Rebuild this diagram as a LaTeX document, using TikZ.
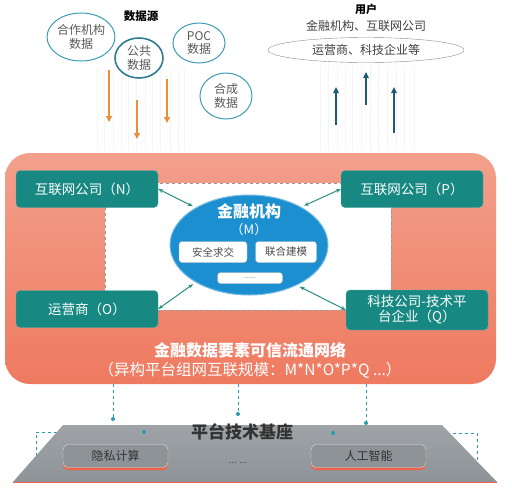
\documentclass[tikz,border=0pt]{standalone}
\usepackage{fontspec}
\setmainfont{Noto Sans CJK SC}
\usepackage{xcolor}
\usetikzlibrary{arrows.meta,shapes.geometric}

\definecolor{netorange}{HTML}{EE7A60}
\definecolor{netlight}{HTML}{F3A08C}
\definecolor{orgteal}{HTML}{178882}
\definecolor{mblue}{HTML}{1C8FD0}
\definecolor{srcring}{HTML}{3C9CB6}
\definecolor{downorange}{HTML}{E98F3C}
\definecolor{upblue}{HTML}{1F5B77}
\definecolor{linkteal}{HTML}{2A8F82}
\definecolor{basegray}{HTML}{8E9397}
\definecolor{dotteal}{HTML}{2A9AB0}

\begin{document}
\begin{tikzpicture}[x=1pt,y=-1pt,
  src/.style={ellipse,draw=srcring,line width=1pt,inner sep=0pt,align=center,
    text=black!65,font=\fontsize{12}{13.5}\selectfont},
  orgbox/.style={rectangle,rounded corners=4pt,fill=orgteal,draw=orgteal!70!white,
    text=white,align=center,minimum width=142pt,minimum height=37pt,
    font=\fontsize{13.5}{15}\selectfont},
  toolbox/.style={rectangle,rounded corners=3pt,fill=white,draw=black!30,
    text=black!70,minimum height=21pt,inner sep=0pt,font=\fontsize{10.5}{12}\selectfont},
  basebox/.style={rectangle,rounded corners=5pt,fill=basegray,draw=white!70!basegray,
    text=black!80,minimum width=105pt,minimum height=23pt,font=\fontsize{12}{13}\selectfont},
  duo/.style={{Stealth[length=5pt]}-{Stealth[length=5pt]},linkteal,line width=1pt},
  downarr/.style={-{Triangle[length=6pt,width=6pt]},downorange,line width=1.8pt},
  uparr/.style={-{Triangle[length=6pt,width=5.5pt]},upblue,line width=1.6pt},
  tap/.style={dashed,dotteal,line width=0.6pt},
  tapdot/.style={circle,fill=dotteal,inner sep=0pt,minimum size=4pt}]

\useasboundingbox (0,0) rectangle (512,491);

% faint stripes behind the arrows
\foreach \x in {97,104,113,121,128,136,145,152,160,170,178,184}
  \draw[black!4,line width=1pt] (\x,68) -- (\x,150);
\foreach \x in {320,328,337,345,352,361,370,378,387,396,404,414}
  \draw[black!4,line width=1pt] (\x,66) -- (\x,150);

% data sources
\node[font=\bfseries\fontsize{11.5}{12}\selectfont] (srctitle) at (141,16) {数据源};
\node[src,minimum width=53pt,minimum height=48pt] (hezuo) at (81,37) {合作机构\\数据};
\node[src,line width=1.6pt,draw=srcring!80!black,minimum width=48pt,minimum height=40pt] (gonggong) at (139,58) {公共\\数据};
\node[src,minimum width=52pt,minimum height=40pt] (poc) at (199,43) {POC\\数据};
\node[src,minimum width=52pt,minimum height=46pt] (hecheng) at (226,96) {合成\\数据};
\foreach \x/\ya/\yb in {109/70/122, 137/100/139, 167/79/123}
  \draw[downarr] (\x,\ya) -- (\x,\yb);

% users
\node[font=\bfseries\fontsize{11}{12}\selectfont] (usertitle) at (366,9) {用户};
\node[font=\fontsize{12}{13}\selectfont,text=black!75] (userline) at (366,26) {金融机构、互联网公司};
\node[ellipse,draw=black!45,fill=white,minimum width=196pt,minimum height=25pt,inner sep=0pt,
  font=\fontsize{12}{13}\selectfont,text=black!75] (userring) at (366,50) {运营商、科技企业等};
\foreach \x/\ya/\yb in {336/125/87, 366/105/72, 394/133/87}
  \draw[uparr] (\x,\ya) -- (\x,\yb);

% network
\node[rectangle,rounded corners=25pt,top color=netlight,bottom color=netorange,
  minimum width=491pt,minimum height=231pt] (net) at (250.5,268.5) {};
\draw[dashed,black!40,fill=white] (105,183) rectangle (391,310);

\node[orgbox] (N) at (87,189) {互联网公司（N）};
\node[orgbox] (O) at (87,309) {运营商（O）};
\node[orgbox] (P) at (412,189) {互联网公司（P）};
\node[orgbox,minimum height=40pt] (Q) at (417,310) {科技公司-技术平\\台企业（Q）};

\node[ellipse,fill=mblue,draw=mblue!60!white,line width=1pt,minimum width=158pt,minimum height=100pt] (M) at (249,245) {};
\node[text=white,font=\bfseries\fontsize{16}{17}\selectfont] (mtitle) at (249,211) {金融机构};
\node[text=white,font=\fontsize{13}{14}\selectfont] (mtag) at (249,230) {（M）};
\node[toolbox,minimum width=68pt] (psi) at (213,252) {安全求交};
\node[toolbox,minimum width=61pt] (model) at (286,252) {联合建模};
\node[toolbox,minimum width=65pt,minimum height=11pt,font=\fontsize{7}{7}\selectfont] (more) at (250,278) {......};

\draw[duo,shorten >=3pt] (N.east) -- (M.145);
\draw[duo,shorten >=3pt] (O.east) -- (M.215);
\draw[duo,shorten >=3pt] (P.west) -- (M.36);
\draw[duo,shorten >=3pt] (Q.west) -- (M.320);

\node[text=white,font=\bfseries\fontsize{16}{17}\selectfont] (nettitle) at (250,350) {金融数据要素可信流通网络};
\node[text=white,font=\fontsize{15.5}{16}\selectfont] (netscale) at (250,370) {（异构平台组网互联规模：M*N*O*P*Q ...）};

% platform base
\draw[tap] (36,462) -- (36,432) -- (144,432);
\draw[tap] (333,433) -- (477,433) -- (477,462);
\shade[top color=basegray!85!white,bottom color=basegray] (63,425) -- (442,425) -- (497,482) -- (13,482) -- cycle;
\draw[netorange!80!red,line width=1pt] (13,482) -- (497,482);
\node[tapdot] (d1) at (144,432) {};
\node[tapdot] (d2) at (333,433) {};

\coordinate (t1) at (113,384);
\coordinate (t2) at (238,384);
\coordinate (t3) at (366,384);
\node[tapdot] (b1) at (113,419) {};
\node[tapdot] (b2) at (238,414) {};
\node[tapdot] (b3) at (366,423) {};
\draw[tap] (t1) -- (b1);
\draw[tap] (t2) -- (b2);
\draw[tap] (t3) -- (b3);

\node[text=black!80,font=\bfseries\fontsize{17}{18}\selectfont] (basetitle) at (242,432) {平台技术基座};
\fill[netorange!80!red,rounded corners=5pt] (63,447) rectangle (168,470);
\fill[netorange!80!red,rounded corners=5pt] (311,447) rectangle (426,470);
\node[basebox] (privacy) at (115.5,456) {隐私计算};
\node[basebox,minimum width=115pt] (ai) at (368.5,456) {人工智能};
\node[text=black!70,font=\fontsize{9}{10}\selectfont] (etc) at (238,463) {... ...};
\end{tikzpicture}
\end{document}
